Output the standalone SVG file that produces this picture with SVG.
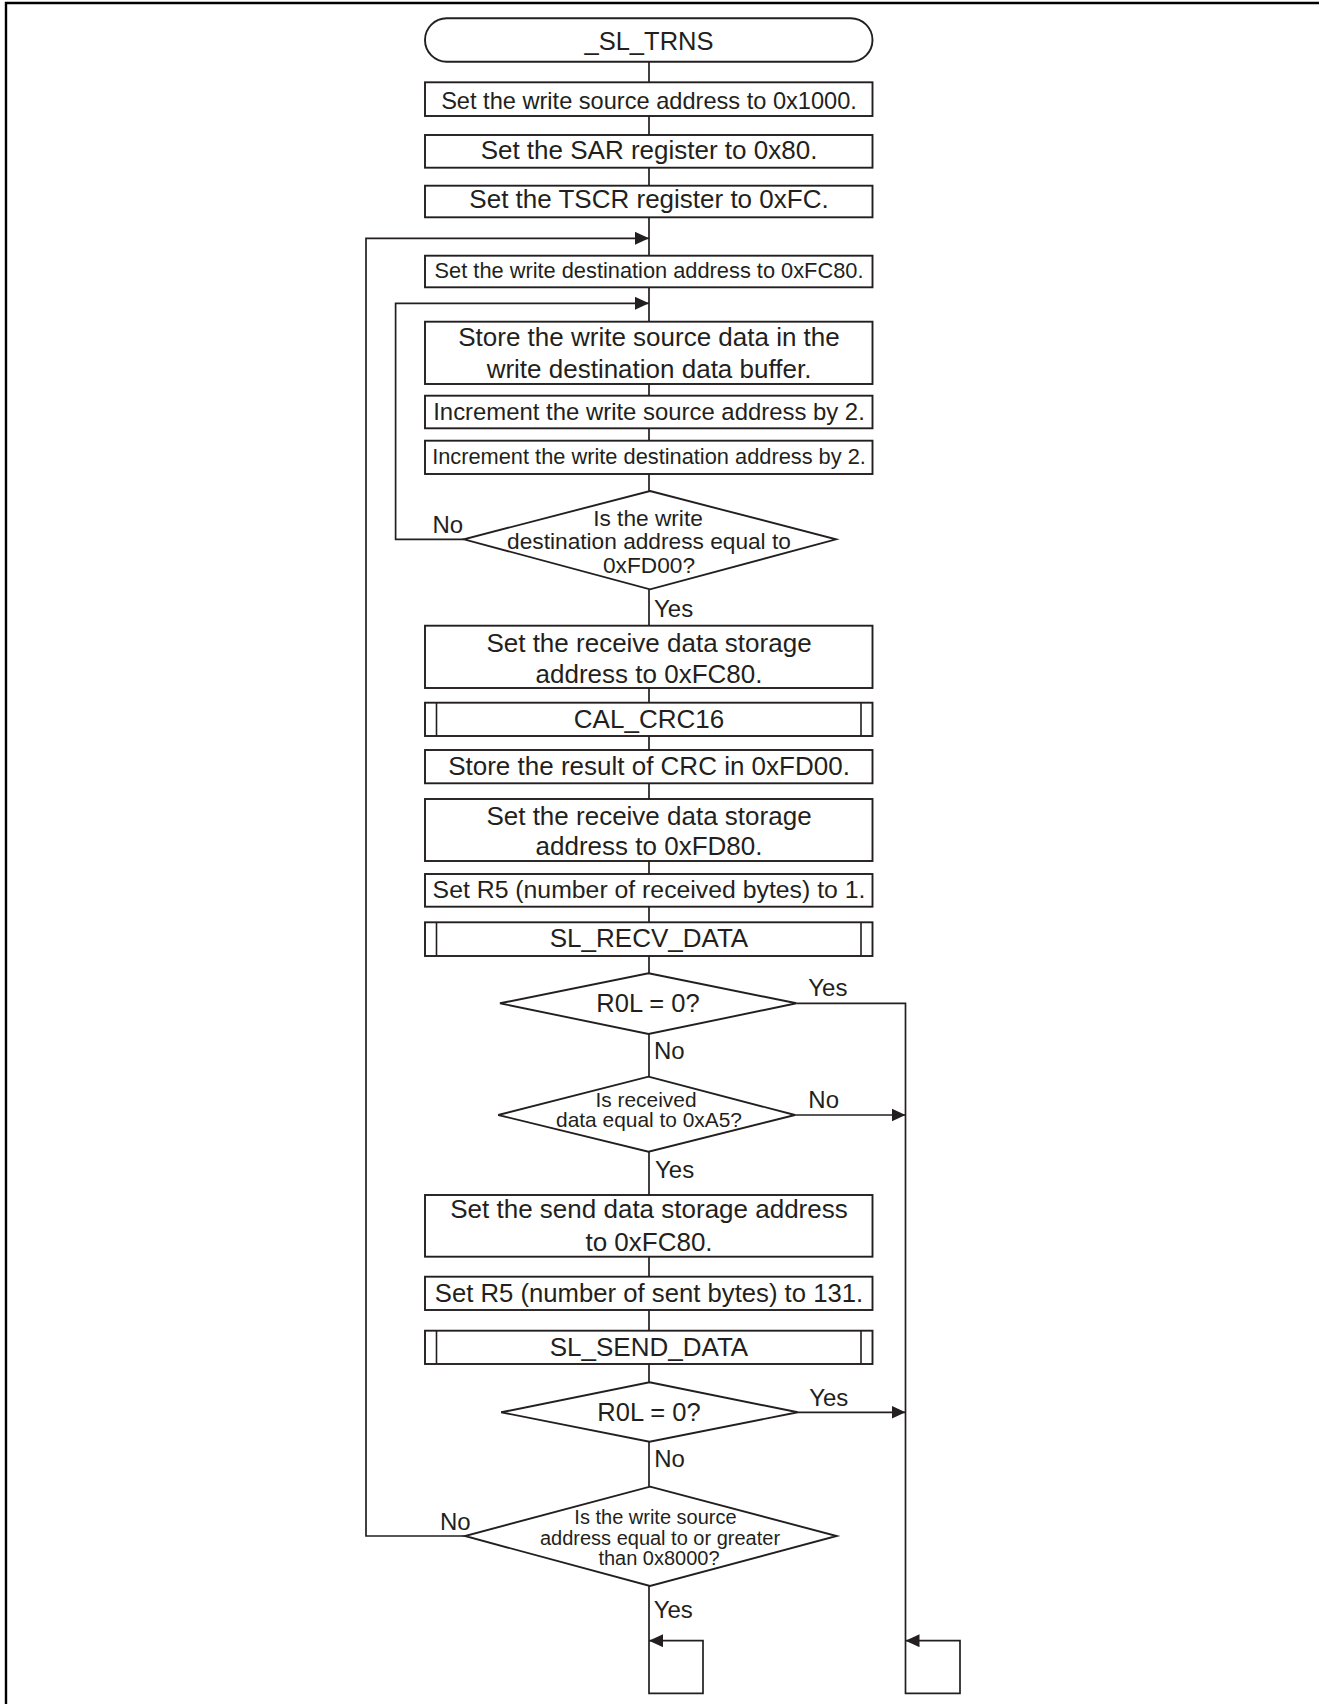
<svg xmlns="http://www.w3.org/2000/svg" width="1319" height="1704" viewBox="0 0 1319 1704">
  <style>
    .box { fill: #fff; stroke: #231f20; stroke-width: 1.9; }
    .bar { fill: none; stroke: #231f20; stroke-width: 1.6; }
    .wire { fill: none; stroke: #231f20; stroke-width: 1.7; }
    .frame { fill: none; stroke: #000; stroke-width: 2.4; }
    text { font-family: "Liberation Sans", Arial, sans-serif; fill: #231f20; }
    .c { text-anchor: middle; }
    .lbl { font-size: 24px; }
  </style>
  <defs>
    <marker id="arrow" markerUnits="userSpaceOnUse" markerWidth="16" markerHeight="14" refX="14" refY="6.5" orient="auto">
      <path d="M0,0 L14,6.5 L0,13 Z" fill="#231f20"/>
    </marker>
  </defs>

  <!-- page frame -->
  <path class="frame" d="M6,1704 V3 H1319"/>

  <!-- connectors -->
  <g id="connectors">
    <path class="wire" d="M649,61.7 V82.3 M649,116 V135 M649,167.7 V185.7 M649,217.3 V255.7 M649,287.3 V321.7 M649,384 V395.7 M649,428.3 V440.7 M649,474 V491 M649,589.3 V625.7 M649,688 V702.7 M649,736 V750 M649,783.3 V799 M649,861 V874 M649,906.7 V922.3 M649,956 V973.3 M649,1034 V1076.7 M649,1151.7 V1195 M649,1256.7 V1276.7 M649,1310 V1330.7 M649,1364 V1382.3 M649,1441.7 V1486.7"/>
    <!-- outer loop back to the destination-address setup -->
    <path class="wire" d="M465,1536 H366 V238.3 H649" marker-end="url(#arrow)"/>
    <!-- inner copy loop -->
    <path class="wire" d="M464,539.3 H395.6 V303.3 H649" marker-end="url(#arrow)"/>
    <!-- error exit path -->
    <path class="wire" d="M796.5,1003.3 H905.5 V1693.3 H960 V1640.7 H905.5" marker-end="url(#arrow)"/>
    <path class="wire" d="M795,1115 H905.5" marker-end="url(#arrow)"/>
    <path class="wire" d="M797.8,1412.3 H905.5" marker-end="url(#arrow)"/>
    <!-- normal completion path -->
    <path class="wire" d="M649,1586 V1693.3 H703 V1640.7 H649" marker-end="url(#arrow)"/>
  </g>

  <!-- edge labels -->
  <g id="labels" class="lbl">
    <text x="432.4" y="533.3">No</text>
    <text x="654" y="616.7">Yes</text>
    <text x="808.3" y="996">Yes</text>
    <text x="654" y="1059.3">No</text>
    <text x="808.3" y="1108.3">No</text>
    <text x="655" y="1178.3">Yes</text>
    <text x="809.2" y="1405.7">Yes</text>
    <text x="654.2" y="1466.7">No</text>
    <text x="440" y="1530">No</text>
    <text x="653.7" y="1618.3">Yes</text>
  </g>

  <g id="start">
    <rect class="box" x="425" y="18.3" width="447.5" height="43.4" rx="21.7" ry="21.7"/>
    <text class="c" x="649" y="50" font-size="25.5">_SL_TRNS</text>
  </g>

  <g id="set-src">
    <rect class="box" x="425" y="82.3" width="447.5" height="33.7"/>
    <text class="c" x="649" y="109" font-size="23.6">Set the write source address to 0x1000.</text>
  </g>

  <g id="set-sar">
    <rect class="box" x="425" y="135" width="447.5" height="32.7"/>
    <text class="c" x="649" y="159.3" font-size="26">Set the SAR register to 0x80.</text>
  </g>

  <g id="set-tscr">
    <rect class="box" x="425" y="185.7" width="447.5" height="31.6"/>
    <text class="c" x="649" y="208.3" font-size="26">Set the TSCR register to 0xFC.</text>
  </g>

  <g id="set-dst">
    <rect class="box" x="425" y="255.7" width="447.5" height="31.6"/>
    <text class="c" x="649" y="278.3" font-size="21.8">Set the write destination address to 0xFC80.</text>
  </g>

  <g id="store-data">
    <rect class="box" x="425" y="321.7" width="447.5" height="62.3"/>
    <text class="c" x="649" y="346" font-size="26">Store the write source data in the</text>
    <text class="c" x="649" y="378.3" font-size="26">write destination data buffer.</text>
  </g>

  <g id="inc-src">
    <rect class="box" x="425" y="395.7" width="447.5" height="32.6"/>
    <text class="c" x="649" y="420" font-size="23.9">Increment the write source address by 2.</text>
  </g>

  <g id="inc-dst">
    <rect class="box" x="425" y="440.7" width="447.5" height="33.3"/>
    <text class="c" x="649" y="464" font-size="21.8">Increment the write destination address by 2.</text>
  </g>

  <g id="dst-end">
    <polygon class="box" points="650,491 836,539.3 650,589.3 464,539.3"/>
    <text class="c" x="648" y="526" font-size="22.7">Is the write</text>
    <text class="c" x="649" y="549.3" font-size="22.7">destination address equal to</text>
    <text class="c" x="649" y="573.3" font-size="22.7">0xFD00?</text>
  </g>

  <g id="rx-fc80">
    <rect class="box" x="425" y="625.7" width="447.5" height="62.3"/>
    <text class="c" x="649" y="651.7" font-size="26">Set the receive data storage</text>
    <text class="c" x="649" y="682.7" font-size="26">address to 0xFC80.</text>
  </g>

  <g id="cal-crc16">
    <rect class="box" x="425" y="702.7" width="447.5" height="33.3"/>
    <path class="bar" d="M436.5,702.7 V736 M861,702.7 V736"/>
    <text class="c" x="649" y="727.7" font-size="26">CAL_CRC16</text>
  </g>

  <g id="store-crc">
    <rect class="box" x="425" y="750" width="447.5" height="33.3"/>
    <text class="c" x="649" y="775" font-size="26">Store the result of CRC in 0xFD00.</text>
  </g>

  <g id="rx-fd80">
    <rect class="box" x="425" y="799" width="447.5" height="62"/>
    <text class="c" x="649" y="825" font-size="26">Set the receive data storage</text>
    <text class="c" x="649" y="855" font-size="26">address to 0xFD80.</text>
  </g>

  <g id="rx-count">
    <rect class="box" x="425" y="874" width="447.5" height="32.7"/>
    <text class="c" x="649" y="898.3" font-size="24.8">Set R5 (number of received bytes) to 1.</text>
  </g>

  <g id="sl-recv-data">
    <rect class="box" x="425" y="922.3" width="447.5" height="33.7"/>
    <path class="bar" d="M436.5,922.3 V956 M861,922.3 V956"/>
    <text class="c" x="649" y="947.3" font-size="26">SL_RECV_DATA</text>
  </g>

  <g id="recv-err">
    <polygon class="box" points="648.5,973.3 796.5,1003.3 648.5,1034 500,1003.3"/>
    <text class="c" x="648" y="1011.7" font-size="25.5">R0L = 0?</text>
  </g>

  <g id="recv-a5">
    <polygon class="box" points="648.5,1076.7 795,1115 648.5,1151.7 498.3,1115"/>
    <text class="c" x="646" y="1106.7" font-size="20.9">Is received</text>
    <text class="c" x="649" y="1126.7" font-size="20.9">data equal to 0xA5?</text>
  </g>

  <g id="tx-fc80">
    <rect class="box" x="425" y="1195" width="447.5" height="61.7"/>
    <text class="c" x="649" y="1218.3" font-size="26">Set the send data storage address</text>
    <text class="c" x="649" y="1250.7" font-size="26">to 0xFC80.</text>
  </g>

  <g id="tx-count">
    <rect class="box" x="425" y="1276.7" width="447.5" height="33.3"/>
    <text class="c" x="649" y="1301.7" font-size="25.7">Set R5 (number of sent bytes) to 131.</text>
  </g>

  <g id="sl-send-data">
    <rect class="box" x="425" y="1330.7" width="447.5" height="33.3"/>
    <path class="bar" d="M436.5,1330.7 V1364 M861,1330.7 V1364"/>
    <text class="c" x="649" y="1355.7" font-size="26">SL_SEND_DATA</text>
  </g>

  <g id="send-err">
    <polygon class="box" points="649.5,1382.3 797.8,1412.3 649.5,1441.7 501.2,1412.3"/>
    <text class="c" x="649" y="1420.7" font-size="25.5">R0L = 0?</text>
  </g>

  <g id="src-end">
    <polygon class="box" points="650,1486.7 836.7,1536 650,1586 465,1536"/>
    <text class="c" x="655.5" y="1524" font-size="20">Is the write source</text>
    <text class="c" x="660" y="1545" font-size="20">address equal to or greater</text>
    <text class="c" x="659" y="1565" font-size="20">than 0x8000?</text>
  </g>
</svg>
